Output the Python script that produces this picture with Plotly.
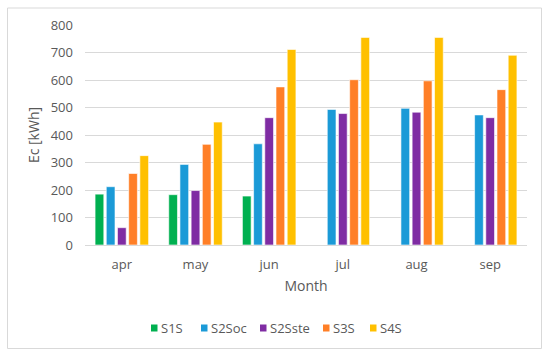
import plotly.graph_objects as go

months = ["apr", "may", "jun", "jul", "aug", "sep"]
s1s = [185, 183, 178, None, None, None]
s2soc = [212, 293, 368, 493, 497, 473]
s2sste = [63, 198, 463, 478, 483, 463]
s3s = [260, 366, 575, 601, 597, 565]
s4s = [325, 447, 711, 755, 755, 690]
y_ticks = [0, 100, 200, 300, 400, 500, 600, 700, 800]
series_names = ["S1S", "S2Soc", "S2Sste", "S3S", "S4S"]
series_values = [s1s, s2soc, s2sste, s3s, s4s]
series_colors = ["#00B050", "#1B9AD7", "#7F2CA3", "#FF7F27", "#FFC000"]

# plot area in pixels
W, H = 550, 358
L, R, T, B = 85, 23, 25, 113
pw, ph = W - L - R, H - T - B

def px_x(x):
    return (x - L) / pw

def px_y(y):
    return (H - B - y) / ph

fig = go.Figure()
for name, vals, col in zip(series_names, series_values, series_colors):
    fig.add_trace(go.Bar(x=months, y=vals, name=name,
                         marker=dict(color=col, line=dict(color="white", width=0.6))))

font = dict(family="Open Sans, Liberation Sans, sans-serif", color="#595959")

# manual legend (compact, like the original)
legend_sq_x = [151, 201, 260, 323, 370]
legend_y = 328
shapes = [dict(type="rect", xref="paper", yref="paper",
               x0=px_x(7.5), x1=px_x(541.5), y0=px_y(348.5), y1=px_y(8),
               line=dict(color="#D9D9D9", width=1), fillcolor="rgba(0,0,0,0)", layer="below")]
annotations = []
for name, col, sx in zip(series_names, series_colors, legend_sq_x):
    shapes.append(dict(type="rect", xref="paper", yref="paper",
                       x0=px_x(sx), x1=px_x(sx + 6.5), y0=px_y(legend_y + 3.5), y1=px_y(legend_y - 3.5),
                       line=dict(width=0), fillcolor=col))
    annotations.append(dict(xref="paper", yref="paper", x=px_x(sx + 8), y=px_y(legend_y),
                            xanchor="left", yanchor="middle", text=name, showarrow=False,
                            font=dict(size=13, **font)))

fig.update_layout(
    width=W, height=H,
    margin=dict(l=L, r=R, t=T, b=B),
    paper_bgcolor="white", plot_bgcolor="white",
    barmode="group", bargap=0.24, bargroupgap=0.22,
    font=dict(size=13, **font),
    showlegend=False,
    xaxis=dict(title=dict(text="Month", font=dict(size=14, **font), standoff=9),
               showgrid=False, showline=True, linecolor="#D9D9D9", linewidth=1,
               ticks="", ticklabelstandoff=7, tickfont=dict(size=13, **font)),
    yaxis=dict(title=dict(text="Ec [kWh]", font=dict(size=14, **font), standoff=7),
               range=[0, 800], tickvals=y_ticks, showgrid=True, gridcolor="#D9D9D9",
               gridwidth=1, zeroline=False, ticks="", ticklabelstandoff=11,
               tickfont=dict(size=13, **font)),
    shapes=shapes,
    annotations=annotations,
)
fig.write_html("out.html", config={"displayModeBar": False},
               post_script="document.body.style.margin='0';document.body.style.overflow='hidden';")
